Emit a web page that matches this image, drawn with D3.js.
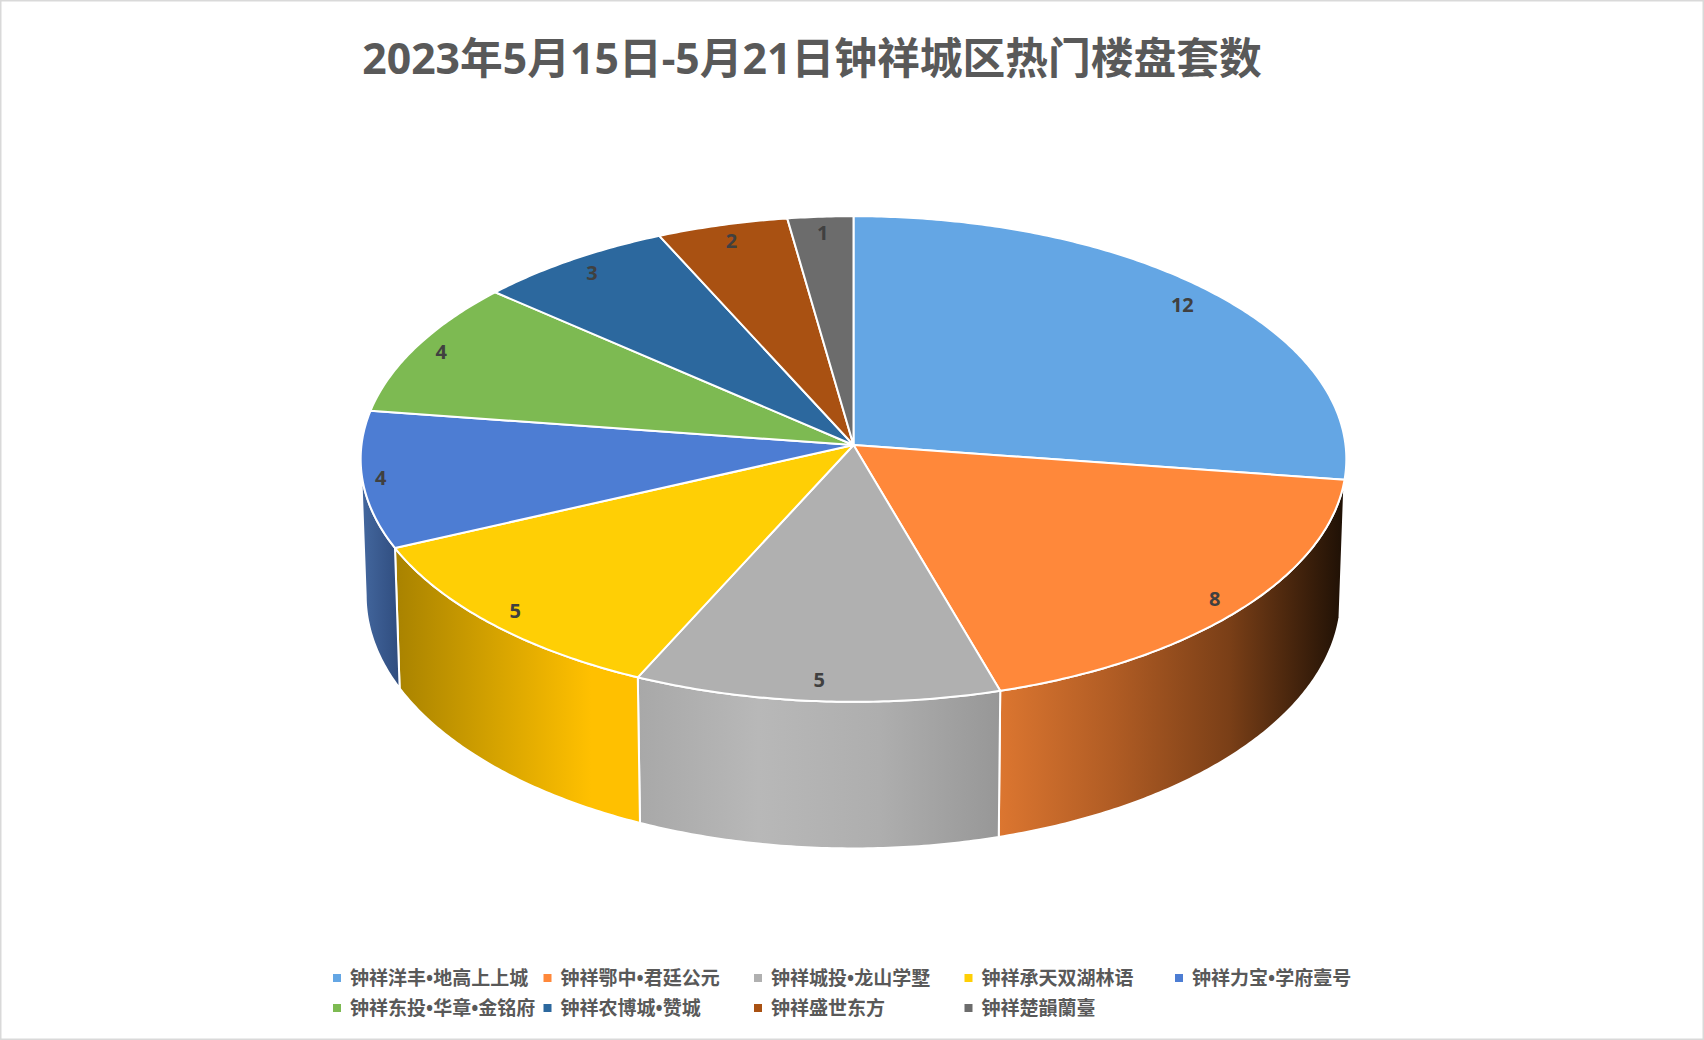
<!DOCTYPE html>
<html>
<head>
<meta charset="utf-8">
<script src="https://cdnjs.cloudflare.com/ajax/libs/d3/7.8.5/d3.min.js"></script>
<style>
  html, body { margin: 0; padding: 0; background: #fff; }
  svg { display: block; }
  text { font-family: "Noto Sans", "Noto Sans CJK SC", sans-serif; }
</style>
</head>
<body>
<div id="chart"></div>
<script>
const titleText = "2023年5月15日-5月21日钟祥城区热门楼盘套数";
const categories = ["钟祥洋丰•地高上上城", "钟祥鄂中•君廷公元", "钟祥城投•龙山学墅", "钟祥承天双湖林语", "钟祥力宝•学府壹号", "钟祥东投•华章•金铭府", "钟祥农博城•赞城", "钟祥盛世东方", "钟祥楚韻蘭臺"];
const values = [12, 8, 5, 5, 4, 4, 3, 2, 1];
const topColors = ["#64A6E4", "#FF883A", "#B0B0B0", "#FFCF05", "#4D7DD3", "#7DBA52", "#2C689E", "#A95112", "#6C6C6C"];
// side wall gradients, left to right
const sideColors = [
  ["#1a0d04", "#1a0d04"],
  ["#DC7630", "#B05C24", "#7A3F17", "#1E1005"],
  ["#A8A8A8", "#B8B8B8", "#AEAEAE", "#979797"],
  ["#A88200", "#BE9200", "#D4A200", "#EAB100", "#FFC000", "#FFC000"],
  ["#44689F", "#2F4C7E"]
];
// how far out along the slice each data label sits
const labelRadius = [0.915, 0.937, 0.922, 0.935, 0.963, 0.942, 0.925, 0.925, 0.925];

const width = 1704;
const height = 1040;
const cx = 853.5;
const persp = 0.0577;
const topRim = { a: 492, b: 242, y: 445 };
const bottomRim = { a: 487, b: 252, y: 581 };

const svg = d3.select("#chart").append("svg")
  .attr("width", width)
  .attr("height", height)
  .attr("viewBox", `0 0 ${width} ${height}`);

svg.append("rect")
  .attr("x", 0.75).attr("y", 0.75)
  .attr("width", width - 1.5).attr("height", height - 1.5)
  .attr("fill", "#fff")
  .attr("stroke", "#D9D9D9")
  .attr("stroke-width", 1.5);

svg.append("text")
  .attr("x", 812)
  .attr("y", 74)
  .attr("text-anchor", "middle")
  .attr("font-size", 42.75)
  .attr("font-weight", 700)
  .attr("fill", "#595959")
  .text(titleText);

// angle 0 is straight up, going clockwise; far side of the disc is drawn a little smaller
function project(rim, angle, r) {
  const s = Math.sin(angle) * r, c = Math.cos(angle) * r;
  const w = 1 + persp * c;
  return [cx + rim.a * s / w, rim.y - rim.b * c / w];
}

function arcPoints(rim, a0, a1) {
  const n = Math.max(2, Math.ceil(Math.abs(a1 - a0) / 0.01));
  return d3.range(n + 1).map(i => project(rim, a0 + (a1 - a0) * i / n, 1));
}

const line = d3.line();
const pie = d3.pie().sort(null).value(d => d);
const arcs = pie(values);
const defs = svg.append("defs");

// side walls, only between the two points where the rim turns vertical
const frontStart = Math.acos(-persp);
const frontEnd = Math.PI * 2 - frontStart;
const walls = svg.append("g");

arcs.forEach((d, i) => {
  if (!sideColors[i]) return;
  const a0 = Math.max(d.startAngle, frontStart);
  const a1 = Math.min(d.endAngle, frontEnd);
  if (a1 <= a0) return;
  const upper = arcPoints(topRim, a0, a1);
  const lower = arcPoints(bottomRim, a1, a0);
  const xs = upper.concat(lower).map(p => p[0]);
  const grad = defs.append("linearGradient")
    .attr("id", `wall${i}`)
    .attr("gradientUnits", "userSpaceOnUse")
    .attr("x1", d3.min(xs)).attr("x2", d3.max(xs))
    .attr("y1", 0).attr("y2", 0);
  sideColors[i].forEach((col, k) => {
    grad.append("stop")
      .attr("offset", k / (sideColors[i].length - 1))
      .attr("stop-color", col);
  });
  walls.append("path")
    .attr("d", line(upper.concat(lower)) + "Z")
    .attr("fill", `url(#wall${i})`)
    .attr("stroke", "#fff")
    .attr("stroke-width", 2)
    .attr("stroke-linejoin", "round");
});

// top face
svg.append("g").selectAll("path")
  .data(arcs)
  .enter()
  .append("path")
  .attr("d", d => {
    const pts = [[cx, topRim.y]].concat(arcPoints(topRim, d.startAngle, d.endAngle));
    return line(pts) + "Z";
  })
  .attr("fill", (d, i) => topColors[i])
  .attr("stroke", "#fff")
  .attr("stroke-width", 2)
  .attr("stroke-linejoin", "round");

// data labels
svg.append("g").selectAll("text")
  .data(arcs)
  .enter()
  .append("text")
  .attr("transform", d => {
    const p = project(topRim, (d.startAngle + d.endAngle) / 2, labelRadius[d.index]);
    return `translate(${p[0]},${p[1]})`;
  })
  .attr("text-anchor", "middle")
  .attr("dy", "0.35em")
  .attr("font-size", 20)
  .attr("font-weight", 700)
  .attr("fill", "#404040")
  .text(d => d.value);

// legend, five columns
const legend = svg.append("g");
const colX = d3.scalePoint().domain(d3.range(5)).range([333, 1175]);
const rowY = d3.scalePoint().domain([0, 1]).range([978, 1008]);

categories.forEach((name, i) => {
  const item = legend.append("g")
    .attr("transform", `translate(${colX(i % 5)},${rowY(Math.floor(i / 5))})`);
  item.append("rect")
    .attr("y", -4)
    .attr("width", 8)
    .attr("height", 8)
    .attr("fill", topColors[i]);
  item.append("text")
    .attr("x", 17)
    .attr("dy", "0.35em")
    .attr("font-size", 19)
    .attr("font-weight", 700)
    .attr("fill", "#595959")
    .text(name);
});
</script>
</body>
</html>
